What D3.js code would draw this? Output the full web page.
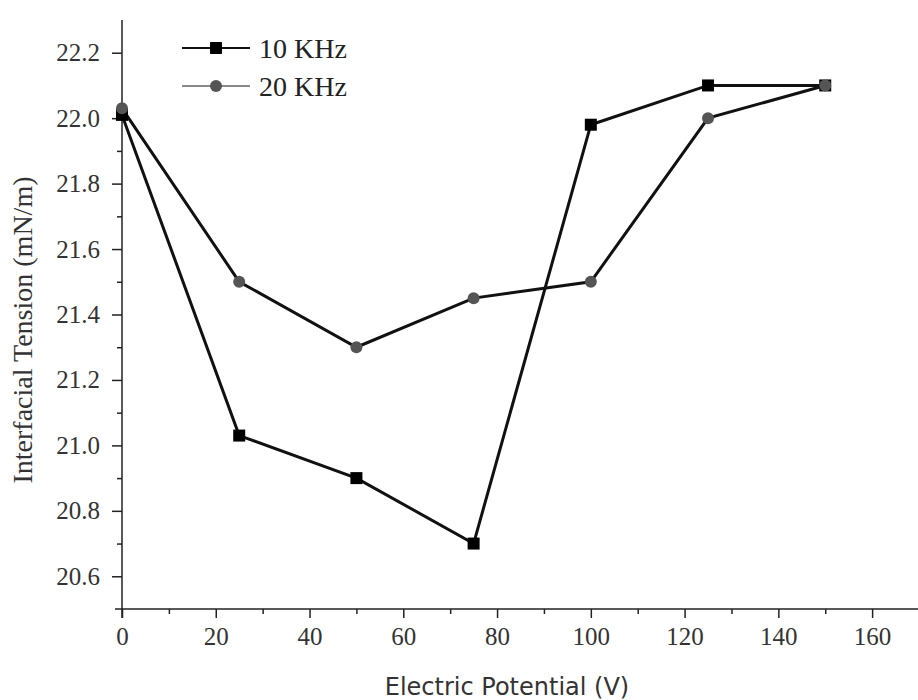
<!DOCTYPE html>
<html>
<head>
<meta charset="utf-8">
<script src="https://cdn.jsdelivr.net/npm/d3@7"></script>
<style>
  body { margin: 0; background: #fff; }
  .axis path, .axis line { stroke: #222; stroke-width: 1.5; }
  svg text.serif, .axis text { font-family: "Liberation Serif", "Times New Roman", serif; }
</style>
</head>
<body>
<svg id="chart" width="918" height="700"></svg>
<script>
const potentials = [0, 25, 50, 75, 100, 125, 150];
const tension10k = [22.01, 21.03, 20.90, 20.70, 21.98, 22.10, 22.10];
const tension20k = [22.03, 21.50, 21.30, 21.45, 21.50, 22.00, 22.10];
const xTicks = [0, 20, 40, 60, 80, 100, 120, 140, 160];
const yTicks = [20.6, 20.8, 21.0, 21.2, 21.4, 21.6, 21.8, 22.0, 22.2];
const seriesNames = ["10 KHz", "20 KHz"];

const svg = d3.select("#chart");
const x = d3.scaleLinear().domain([0, 170]).range([122, 919]);
const y = d3.scaleLinear().domain([20.5, 22.3]).range([609, 20]);

const tickFont = g => {
    g.attr("font-family", "Liberation Serif").attr("font-size", 25);
    g.selectAll("text")
        .attr("font-family", "Liberation Serif")
        .style("font-size", "25px")
        .style("fill", "#333");
};

// minor ticks
svg.append("g").attr("class", "axis")
    .attr("transform", "translate(0,609)")
    .call(d3.axisBottom(x).tickValues(d3.range(10, 170, 20)).tickSize(5).tickFormat(""))
    .call(g => g.select(".domain").remove());
svg.append("g").attr("class", "axis")
    .attr("transform", "translate(122,0)")
    .call(d3.axisLeft(y).tickValues(d3.range(7).map(i => 20.7 + i * 0.2)).tickSize(5).tickFormat(""))
    .call(g => g.select(".domain").remove());

// major axes
svg.append("g").attr("class", "axis")
    .attr("transform", "translate(0,609)")
    .call(d3.axisBottom(x).tickValues(xTicks).tickSize(9).tickSizeOuter(0).tickPadding(9))
    .call(g => g.select(".domain").attr("d", "M115,0H919"))
    .call(tickFont);
svg.append("g").attr("class", "axis")
    .attr("transform", "translate(122,0)")
    .call(d3.axisLeft(y).tickValues(yTicks).tickFormat(d3.format(".1f")).tickSize(10).tickSizeOuter(0).tickPadding(12))
    .call(g => g.select(".domain").attr("d", "M0,20V618"))
    .call(tickFont);

// axis titles
svg.append("text")
    .attr("x", 507).attr("y", 695)
    .attr("text-anchor", "middle")
    .style("font-family", "'DejaVu Sans', sans-serif")
    .style("font-size", "24px").style("fill", "#333")
    .text("Electric Potential (V)");
svg.append("text")
    .attr("class", "serif")
    .attr("transform", "translate(32,330) rotate(-90)")
    .attr("text-anchor", "middle")
    .style("font-size", "28px").style("fill", "#333")
    .text("Interfacial Tension (mN/m)");

const line = d3.line().x((d, i) => x(potentials[i])).y(d => y(d));

// lines
svg.append("path").datum(tension20k).attr("d", line)
    .attr("fill", "none").attr("stroke", "#111").attr("stroke-width", 3);
svg.append("path").datum(tension10k).attr("d", line)
    .attr("fill", "none").attr("stroke", "#111").attr("stroke-width", 3);

// markers
svg.append("g").selectAll("rect")
    .data(tension10k)
    .join("rect")
    .attr("x", (d, i) => x(potentials[i]) - 6)
    .attr("y", d => y(d) - 6)
    .attr("width", 12).attr("height", 12)
    .attr("fill", "#000");
svg.append("g").selectAll("circle")
    .data(tension20k)
    .join("circle")
    .attr("cx", (d, i) => x(potentials[i]))
    .attr("cy", d => y(d))
    .attr("r", 6)
    .attr("fill", "#555");

// legend
const legend = svg.append("g").selectAll("g")
    .data(seriesNames)
    .join("g")
    .attr("transform", (d, i) => `translate(182, ${48 + i * 38})`);
legend.append("line")
    .attr("x1", 0).attr("x2", 68)
    .attr("stroke", (d, i) => i === 0 ? "#111" : "#888")
    .attr("stroke-width", 2);
legend.filter((d, i) => i === 0).append("rect")
    .attr("x", 28).attr("y", -6).attr("width", 12).attr("height", 12).attr("fill", "#000");
legend.filter((d, i) => i === 1).append("circle")
    .attr("cx", 34).attr("r", 6).attr("fill", "#555");
legend.append("text")
    .attr("class", "serif")
    .attr("x", 77).attr("dy", "0.35em")
    .style("font-size", "28px").style("fill", "#222")
    .text(d => d);
</script>
</body>
</html>
